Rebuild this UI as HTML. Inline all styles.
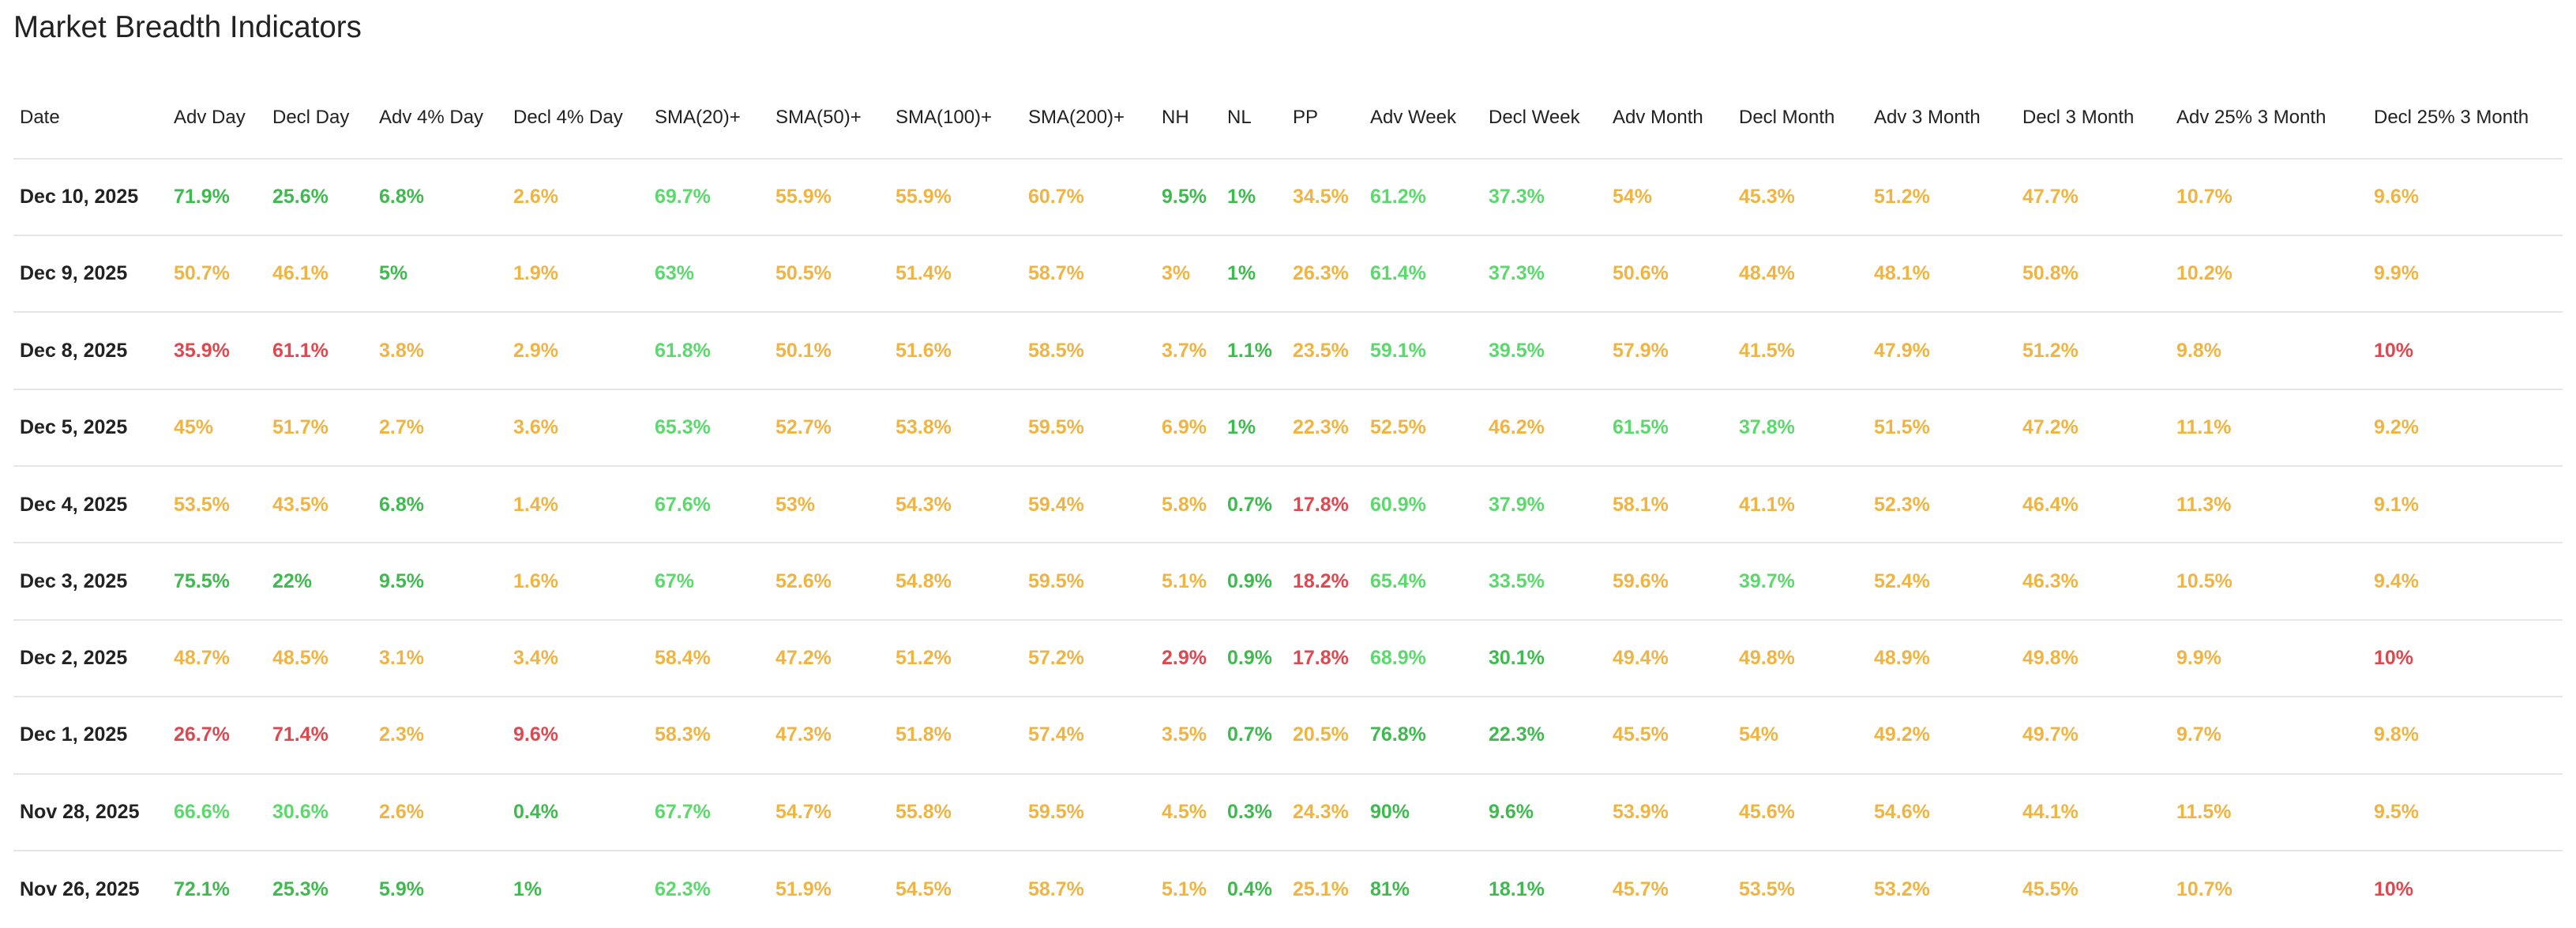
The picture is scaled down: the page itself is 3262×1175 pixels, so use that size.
<!DOCTYPE html>
<html><head><meta charset="utf-8"><style>
html,body{margin:0;padding:0;background:#fff;width:3262px;height:1175px;overflow:hidden;font-family:"Liberation Sans",Arial,sans-serif;}
.t{position:absolute;left:17px;top:16px;font-size:38.5px;line-height:38px;color:#222;}
.ln{position:absolute;left:17px;width:3228px;height:2px;background:#e6e6e6;}
.r{position:absolute;left:0;width:3262px;height:26px;}
.r span{position:absolute;top:0;white-space:nowrap;font-size:25px;line-height:25px;font-weight:bold;}
.h span{font-size:24px;line-height:24px;font-weight:normal;color:#222;}
.r span:nth-child(1){left:25px;color:#222}
.r span:nth-child(2){left:220px}.r span:nth-child(3){left:345px}.r span:nth-child(4){left:480px}
.r span:nth-child(5){left:650px}.r span:nth-child(6){left:829px}.r span:nth-child(7){left:982px}
.r span:nth-child(8){left:1134px}.r span:nth-child(9){left:1302px}.r span:nth-child(10){left:1471px}
.r span:nth-child(11){left:1554px}.r span:nth-child(12){left:1637px}.r span:nth-child(13){left:1735px}
.r span:nth-child(14){left:1885px}.r span:nth-child(15){left:2042px}.r span:nth-child(16){left:2202px}
.r span:nth-child(17){left:2373px}.r span:nth-child(18){left:2561px}.r span:nth-child(19){left:2756px}
.r span:nth-child(20){left:3006px}
.o{color:#f0b443}.g{color:#3fba4f}.l{color:#5cd96d}.d{color:#e0474f}
</style></head><body>
<div class="t">Market Breadth Indicators</div>
<div class="r h" style="top:137px"><span>Date</span><span>Adv Day</span><span>Decl Day</span><span>Adv 4% Day</span><span>Decl 4% Day</span><span>SMA(20)+</span><span>SMA(50)+</span><span>SMA(100)+</span><span>SMA(200)+</span><span>NH</span><span>NL</span><span>PP</span><span>Adv Week</span><span>Decl Week</span><span>Adv Month</span><span>Decl Month</span><span>Adv 3 Month</span><span>Decl 3 Month</span><span>Adv 25% 3 Month</span><span>Decl 25% 3 Month</span></div>
<div class="ln" style="top:200px"></div>
<div class="r" style="top:237px"><span>Dec 10, 2025</span><span class="g">71.9%</span><span class="g">25.6%</span><span class="g">6.8%</span><span class="o">2.6%</span><span class="l">69.7%</span><span class="o">55.9%</span><span class="o">55.9%</span><span class="o">60.7%</span><span class="g">9.5%</span><span class="g">1%</span><span class="o">34.5%</span><span class="l">61.2%</span><span class="l">37.3%</span><span class="o">54%</span><span class="o">45.3%</span><span class="o">51.2%</span><span class="o">47.7%</span><span class="o">10.7%</span><span class="o">9.6%</span></div>
<div class="ln" style="top:297px"></div>
<div class="r" style="top:334px"><span>Dec 9, 2025</span><span class="o">50.7%</span><span class="o">46.1%</span><span class="g">5%</span><span class="o">1.9%</span><span class="l">63%</span><span class="o">50.5%</span><span class="o">51.4%</span><span class="o">58.7%</span><span class="o">3%</span><span class="g">1%</span><span class="o">26.3%</span><span class="l">61.4%</span><span class="l">37.3%</span><span class="o">50.6%</span><span class="o">48.4%</span><span class="o">48.1%</span><span class="o">50.8%</span><span class="o">10.2%</span><span class="o">9.9%</span></div>
<div class="ln" style="top:394px"></div>
<div class="r" style="top:432px"><span>Dec 8, 2025</span><span class="d">35.9%</span><span class="d">61.1%</span><span class="o">3.8%</span><span class="o">2.9%</span><span class="l">61.8%</span><span class="o">50.1%</span><span class="o">51.6%</span><span class="o">58.5%</span><span class="o">3.7%</span><span class="g">1.1%</span><span class="o">23.5%</span><span class="l">59.1%</span><span class="l">39.5%</span><span class="o">57.9%</span><span class="o">41.5%</span><span class="o">47.9%</span><span class="o">51.2%</span><span class="o">9.8%</span><span class="d">10%</span></div>
<div class="ln" style="top:492px"></div>
<div class="r" style="top:529px"><span>Dec 5, 2025</span><span class="o">45%</span><span class="o">51.7%</span><span class="o">2.7%</span><span class="o">3.6%</span><span class="l">65.3%</span><span class="o">52.7%</span><span class="o">53.8%</span><span class="o">59.5%</span><span class="o">6.9%</span><span class="g">1%</span><span class="o">22.3%</span><span class="o">52.5%</span><span class="o">46.2%</span><span class="l">61.5%</span><span class="l">37.8%</span><span class="o">51.5%</span><span class="o">47.2%</span><span class="o">11.1%</span><span class="o">9.2%</span></div>
<div class="ln" style="top:589px"></div>
<div class="r" style="top:627px"><span>Dec 4, 2025</span><span class="o">53.5%</span><span class="o">43.5%</span><span class="g">6.8%</span><span class="o">1.4%</span><span class="l">67.6%</span><span class="o">53%</span><span class="o">54.3%</span><span class="o">59.4%</span><span class="o">5.8%</span><span class="g">0.7%</span><span class="d">17.8%</span><span class="l">60.9%</span><span class="l">37.9%</span><span class="o">58.1%</span><span class="o">41.1%</span><span class="o">52.3%</span><span class="o">46.4%</span><span class="o">11.3%</span><span class="o">9.1%</span></div>
<div class="ln" style="top:686px"></div>
<div class="r" style="top:724px"><span>Dec 3, 2025</span><span class="g">75.5%</span><span class="g">22%</span><span class="g">9.5%</span><span class="o">1.6%</span><span class="l">67%</span><span class="o">52.6%</span><span class="o">54.8%</span><span class="o">59.5%</span><span class="o">5.1%</span><span class="g">0.9%</span><span class="d">18.2%</span><span class="l">65.4%</span><span class="l">33.5%</span><span class="o">59.6%</span><span class="l">39.7%</span><span class="o">52.4%</span><span class="o">46.3%</span><span class="o">10.5%</span><span class="o">9.4%</span></div>
<div class="ln" style="top:784px"></div>
<div class="r" style="top:821px"><span>Dec 2, 2025</span><span class="o">48.7%</span><span class="o">48.5%</span><span class="o">3.1%</span><span class="o">3.4%</span><span class="o">58.4%</span><span class="o">47.2%</span><span class="o">51.2%</span><span class="o">57.2%</span><span class="d">2.9%</span><span class="g">0.9%</span><span class="d">17.8%</span><span class="l">68.9%</span><span class="g">30.1%</span><span class="o">49.4%</span><span class="o">49.8%</span><span class="o">48.9%</span><span class="o">49.8%</span><span class="o">9.9%</span><span class="d">10%</span></div>
<div class="ln" style="top:881px"></div>
<div class="r" style="top:918px"><span>Dec 1, 2025</span><span class="d">26.7%</span><span class="d">71.4%</span><span class="o">2.3%</span><span class="d">9.6%</span><span class="o">58.3%</span><span class="o">47.3%</span><span class="o">51.8%</span><span class="o">57.4%</span><span class="o">3.5%</span><span class="g">0.7%</span><span class="o">20.5%</span><span class="g">76.8%</span><span class="g">22.3%</span><span class="o">45.5%</span><span class="o">54%</span><span class="o">49.2%</span><span class="o">49.7%</span><span class="o">9.7%</span><span class="o">9.8%</span></div>
<div class="ln" style="top:979px"></div>
<div class="r" style="top:1016px"><span>Nov 28, 2025</span><span class="l">66.6%</span><span class="l">30.6%</span><span class="o">2.6%</span><span class="g">0.4%</span><span class="l">67.7%</span><span class="o">54.7%</span><span class="o">55.8%</span><span class="o">59.5%</span><span class="o">4.5%</span><span class="g">0.3%</span><span class="o">24.3%</span><span class="g">90%</span><span class="g">9.6%</span><span class="o">53.9%</span><span class="o">45.6%</span><span class="o">54.6%</span><span class="o">44.1%</span><span class="o">11.5%</span><span class="o">9.5%</span></div>
<div class="ln" style="top:1076px"></div>
<div class="r" style="top:1114px"><span>Nov 26, 2025</span><span class="g">72.1%</span><span class="g">25.3%</span><span class="g">5.9%</span><span class="g">1%</span><span class="l">62.3%</span><span class="o">51.9%</span><span class="o">54.5%</span><span class="o">58.7%</span><span class="o">5.1%</span><span class="g">0.4%</span><span class="o">25.1%</span><span class="g">81%</span><span class="g">18.1%</span><span class="o">45.7%</span><span class="o">53.5%</span><span class="o">53.2%</span><span class="o">45.5%</span><span class="o">10.7%</span><span class="d">10%</span></div>
</body></html>
